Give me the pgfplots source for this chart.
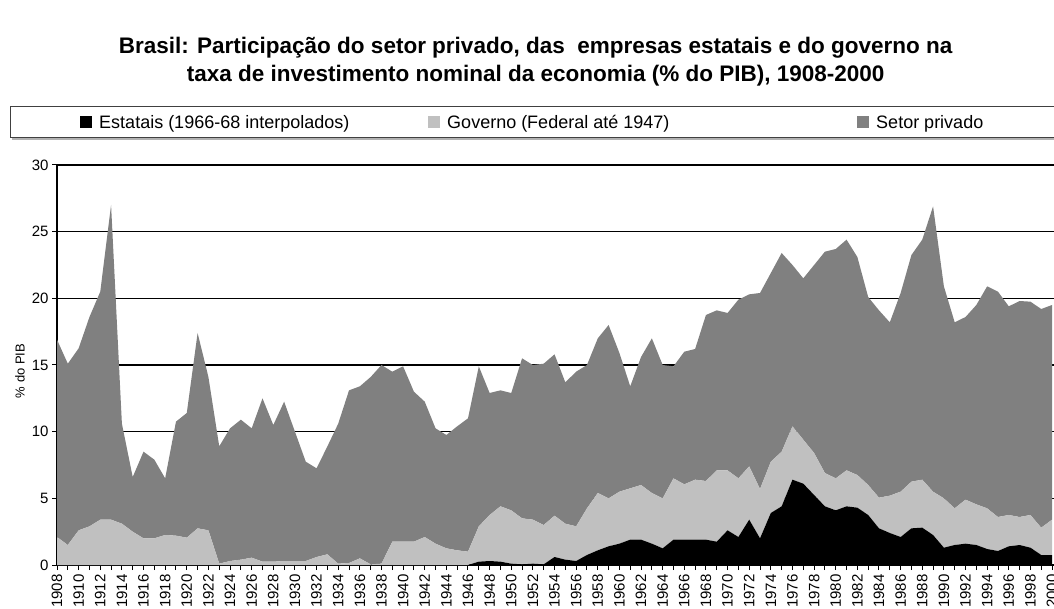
\documentclass[border=0pt]{standalone}
\usepackage{pgfplots}
\pgfplotsset{compat=1.18}
\usepackage{pgfplotstable}
\usepackage{fontspec}
\setmainfont{Liberation Sans}
\definecolor{privado}{HTML}{808080}
\definecolor{governo}{HTML}{C0C0C0}

\pgfplotstableread{
year E G P
1908 0 2.1 14.8
1909 0 1.5 13.6
1910 0 2.6 13.65
1911 0 2.9 15.7
1912 0 3.4 17.1
1913 0 3.4 23.6
1914 0 3.1 7.5
1915 0 2.5 4.1
1916 0 2.0 6.5
1917 0 2.0 5.9
1918 0 2.25 4.25
1919 0 2.2 8.55
1920 0 2.05 9.35
1921 0 2.75 14.65
1922 0 2.6 11.5
1923 0 0.1 8.8
1924 0 0.3 9.95
1925 0 0.4 10.5
1926 0 0.55 9.7
1927 0 0.25 12.25
1928 0 0.25 10.25
1929 0 0.3 11.95
1930 0 0.3 9.7
1931 0 0.3 7.45
1932 0 0.6 6.65
1933 0 0.8 8.1
1934 0 0.1 10.5
1935 0 0.15 12.95
1936 0 0.5 12.9
1937 0 0.05 14.05
1938 0 0.1 14.9
1939 0 1.75 12.75
1940 0 1.75 13.15
1941 0 1.75 11.25
1942 0 2.1 10.15
1943 0 1.6 8.65
1944 0 1.25 8.5
1945 0 1.1 9.3
1946 0 1.0 10.0
1947 0.25 2.65 12.0
1948 0.3 3.45 9.15
1949 0.25 4.15 8.7
1950 0.1 4.0 8.8
1951 0.05 3.45 12.0
1952 0.1 3.3 11.6
1953 0.05 2.95 12.1
1954 0.6 3.1 12.1
1955 0.4 2.7 10.6
1956 0.3 2.6 11.6
1957 0.75 3.5 10.75
1958 1.1 4.3 11.6
1959 1.4 3.6 13.0
1960 1.6 3.9 10.4
1961 1.9 3.85 7.65
1962 1.9 4.1 9.6
1963 1.6 3.8 11.6
1964 1.25 3.75 10.0
1965 1.9 4.6 8.4
1966 1.9 4.15 9.95
1967 1.9 4.5 9.8
1968 1.9 4.4 12.45
1969 1.75 5.35 12.0
1970 2.6 4.5 11.8
1971 2.1 4.4 13.4
1972 3.4 4.0 12.9
1973 2.0 3.7 14.7
1974 3.9 3.85 14.15
1975 4.4 4.1 14.9
1976 6.4 4.0 12.1
1977 6.1 3.3 12.1
1978 5.25 3.15 14.1
1979 4.4 2.5 16.6
1980 4.1 2.4 17.2
1981 4.4 2.7 17.3
1982 4.3 2.45 16.35
1983 3.75 2.25 14.1
1984 2.75 2.3 14.05
1985 2.4 2.8 13.0
1986 2.1 3.4 14.9
1987 2.75 3.5 17.0
1988 2.8 3.6 18.0
1989 2.25 3.25 21.4
1990 1.3 3.7 15.9
1991 1.5 2.75 13.95
1992 1.6 3.3 13.7
1993 1.5 3.05 14.95
1994 1.2 3.05 16.65
1995 1.05 2.55 16.9
1996 1.4 2.35 15.65
1997 1.5 2.1 16.2
1998 1.3 2.45 16.0
1999 0.75 2.05 16.4
2000 0.75 2.65 16.1
}\datatable

\begin{document}
\begin{tikzpicture}
\fill[black!30] (12pt,468pt) rectangle (1070pt,499pt);
\draw[black!75, line width=1pt, fill=white] (10pt,470pt) rectangle (1068pt,501pt);
\begin{axis}[
  at={(57pt,43pt)}, anchor=south west,
  scale only axis, width=997.2pt, height=400pt,
  xmin=1908, xmax=2000.2, ymin=0, ymax=30,
  stack plots=y,
  axis x line*=bottom, axis y line*=left,
  axis line style={-, line width=1.2pt, black},
  ytick={0,5,...,30},
  xtick={1908,1910,...,2000},
  minor xtick={1909,1911,...,1999},
  tick align=outside,
  major tick length=5pt, minor tick length=5pt,
  tick style={black, line width=1pt},
  ymajorgrids, grid style={black, line width=1.2pt},
  /pgf/number format/assume math mode=true,
  x tick label style={/pgf/number format/1000 sep={}, rotate=90, anchor=east, font=\fontsize{15}{15}\selectfont, xshift=-1pt},
  y tick label style={font=\fontsize{15}{15}\selectfont},
  ylabel={\% do PIB},
  ylabel style={at={(axis description cs:-0.037,0.485)}, anchor=center, font=\fontsize{13}{13}\selectfont},
  title={Brasil: Participação do setor privado, das\ \ empresas estatais e do governo na\\taxa de investimento nominal da economia (\% do PIB), 1908-2000},
  title style={at={(axis description cs:0.48,1.243)}, anchor=center, align=center, font=\bfseries\fontsize{22.5}{28}\selectfont},
  legend columns=3,
  legend style={at={(axis description cs:0.0231,1.10625)}, anchor=west, draw=none, fill=none,
    font=\fontsize{18}{18}\selectfont, inner sep=0pt, row sep=0pt,
    /tikz/every odd column/.append style={column sep=5pt},
    /tikz/every even column/.append style={column sep=0pt}},
  legend cell align=left,
  legend image code/.code={\fill[#1] (0pt,-6pt) rectangle (12pt,6pt);},
]
\addplot[fill=black, draw=none] table[x=year, y=E] {\datatable} \closedcycle;
\addlegendentry{\makebox[327pt][l]{Estatais (1966-68 interpolados)}}
\addplot[fill=governo, draw=none] table[x=year, y=G] {\datatable} \closedcycle;
\addlegendentry{\makebox[408pt][l]{Governo (Federal até 1947)}}
\addplot[fill=privado, draw=none] table[x=year, y=P] {\datatable} \closedcycle;
\addlegendentry{Setor privado}
\end{axis}
\pgfresetboundingbox
\path[use as bounding box] (0,0) rectangle (1054pt,608pt);
\end{tikzpicture}
\end{document}
